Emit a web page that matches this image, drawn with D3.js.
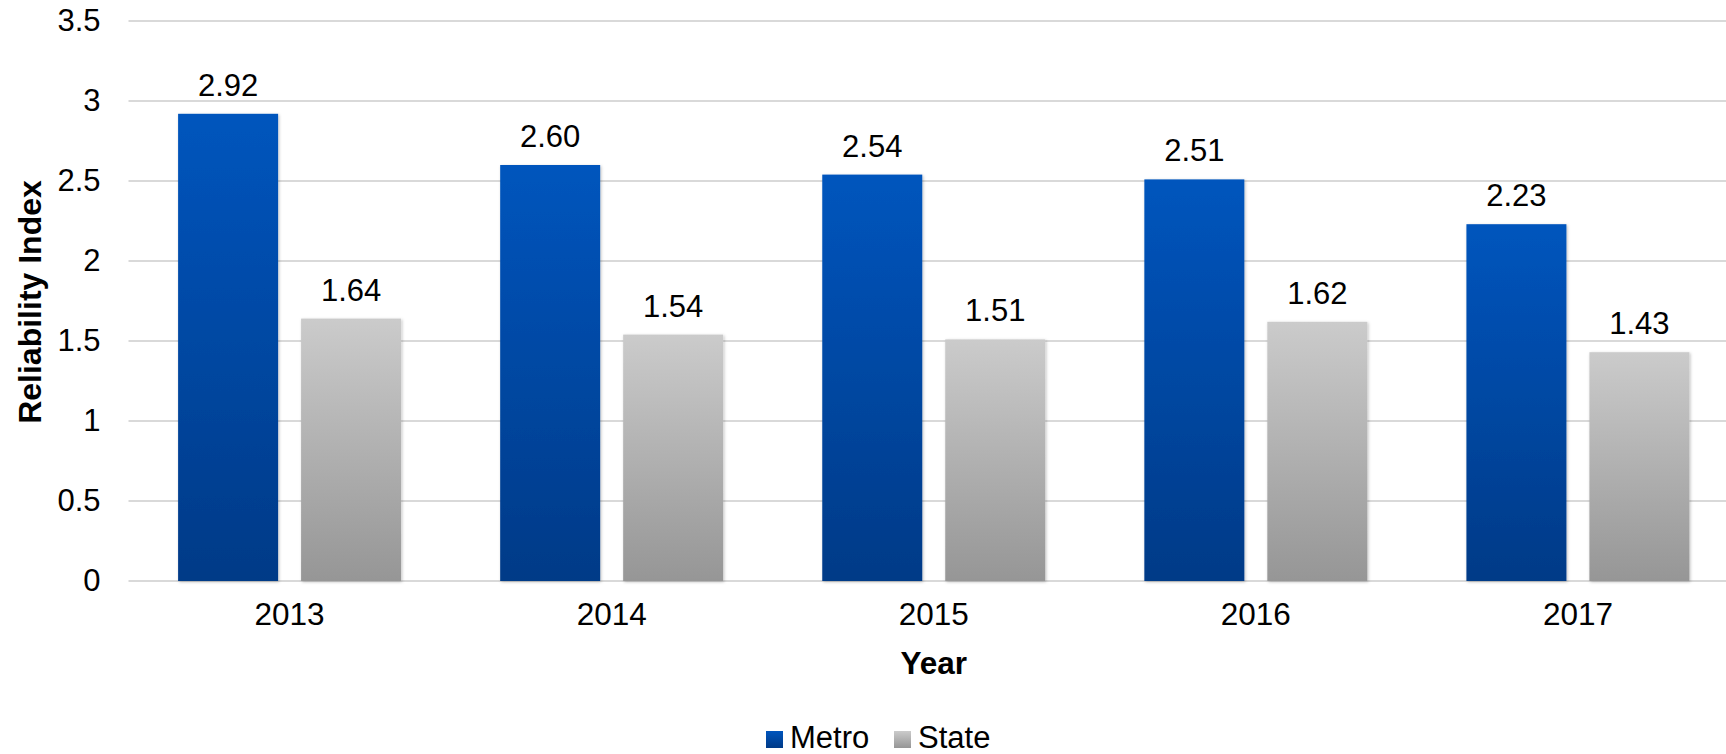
<!DOCTYPE html>
<html>
<head>
<meta charset="utf-8">
<script src="https://cdn.jsdelivr.net/npm/d3@7/dist/d3.min.js"></script>
<style>
  html, body { margin: 0; padding: 0; background: #fff; overflow: hidden; }
  text { font-family: "Liberation Sans", Arial, sans-serif; fill: #000; }
</style>
</head>
<body>
<div id="chart"></div>
<script>
// DATA
const years = ['2013', '2014', '2015', '2016', '2017'];
const seriesNames = ['Metro', 'State'];
const metroValues = [2.92, 2.60, 2.54, 2.51, 2.23];
const stateValues = [1.64, 1.54, 1.51, 1.62, 1.43];
const yTicks = [0, 0.5, 1, 1.5, 2, 2.5, 3, 3.5];

const width = 1726, height = 754;
const plotLeft = 128.5, plotRight = 1739, plotTop = 21, plotBottom = 581;

const svg = d3.select('#chart')
    .append('svg')
    .attr('width', width)
    .attr('height', height);

// GRADIENTS + SHADOW
const defs = svg.append('defs');
const grads = { Metro: ['#0055bd', '#003a87'], State: ['#cbcbcb', '#969696'] };
seriesNames.forEach(name => {
    const g = defs.append('linearGradient')
        .attr('id', 'grad' + name)
        .attr('x1', 0).attr('y1', 0).attr('x2', 0).attr('y2', 1);
    g.append('stop').attr('offset', '0%').attr('stop-color', grads[name][0]);
    g.append('stop').attr('offset', '100%').attr('stop-color', grads[name][1]);
});
const shadow = defs.append('filter').attr('id', 'shadow')
    .attr('x', '-10%').attr('y', '-10%').attr('width', '130%').attr('height', '120%');
shadow.append('feDropShadow')
    .attr('dx', 1).attr('dy', 1).attr('stdDeviation', 1.5)
    .attr('flood-color', '#000').attr('flood-opacity', 0.25);

// SCALES
const yScale = d3.scaleLinear().domain([0, 3.5]).range([plotBottom, plotTop]);
const xScale = d3.scaleBand().domain(years).range([plotLeft, plotRight])
    .paddingInner(0.3077).paddingOuter(0.154);
const xInner = d3.scaleBand().domain(seriesNames).range([0, xScale.bandwidth()])
    .paddingInner(0.187).paddingOuter(0);

// GRIDLINES
svg.append('g')
    .selectAll('line')
    .data(yTicks)
    .enter()
    .append('line')
    .attr('x1', plotLeft).attr('x2', plotRight)
    .attr('y1', d => yScale(d)).attr('y2', d => yScale(d))
    .attr('stroke', '#d9d9d9')
    .attr('stroke-width', 2);

// Y AXIS
const yAxis = svg.append('g')
    .attr('transform', `translate(${plotLeft},0)`)
    .call(d3.axisLeft(yScale).tickValues(yTicks).tickSize(0).tickPadding(28).tickFormat(d => d));
yAxis.select('.domain').remove();
yAxis.selectAll('text')
    .attr('font-size', 31)
    .attr('font-family', '"Liberation Sans", Arial, sans-serif')
    .attr('fill', '#000');

// X AXIS
const xAxis = svg.append('g')
    .attr('transform', `translate(0,${plotBottom})`)
    .call(d3.axisBottom(xScale).tickSize(0).tickPadding(22));
xAxis.select('.domain').remove();
xAxis.selectAll('text')
    .attr('font-size', 31.5)
    .attr('font-family', '"Liberation Sans", Arial, sans-serif')
    .attr('fill', '#000');

// BARS
const rows = years.map((y, i) => ({ year: y, Metro: metroValues[i], State: stateValues[i] }));
const groups = svg.append('g')
    .selectAll('g')
    .data(rows)
    .enter()
    .append('g')
    .attr('transform', d => `translate(${xScale(d.year)},0)`);

groups.selectAll('rect')
    .data(d => seriesNames.map(s => ({ key: s, value: d[s] })))
    .enter()
    .append('rect')
    .attr('x', d => xInner(d.key))
    .attr('width', xInner.bandwidth())
    .attr('y', d => yScale(d.value))
    .attr('height', d => plotBottom - yScale(d.value))
    .attr('fill', d => `url(#grad${d.key})`)
    .attr('filter', 'url(#shadow)');

// VALUE LABELS
groups.selectAll('text.val')
    .data(d => seriesNames.map(s => ({ key: s, value: d[s] })))
    .enter()
    .append('text')
    .attr('class', 'val')
    .attr('x', d => xInner(d.key) + xInner.bandwidth() / 2)
    .attr('y', d => yScale(d.value) - 18)
    .attr('text-anchor', 'middle')
    .attr('font-size', 31)
    .text(d => d.value.toFixed(2));

// AXIS TITLES
svg.append('text')
    .attr('transform', `translate(41,${(plotTop + plotBottom) / 2 + 1}) rotate(-90)`)
    .attr('text-anchor', 'middle')
    .attr('font-size', 32)
    .attr('font-weight', 'bold')
    .text('Reliability Index');

svg.append('text')
    .attr('x', (plotLeft + plotRight) / 2)
    .attr('y', 674)
    .attr('text-anchor', 'middle')
    .attr('font-size', 31.5)
    .attr('font-weight', 'bold')
    .text('Year');

// LEGEND
const legendItems = [{ name: 'Metro', x: 766 }, { name: 'State', x: 894 }];
const legend = svg.append('g')
    .selectAll('g')
    .data(legendItems)
    .enter()
    .append('g')
    .attr('transform', d => `translate(${d.x},731)`);
legend.append('rect')
    .attr('width', 17).attr('height', 17)
    .attr('fill', d => `url(#grad${d.name})`);
legend.append('text')
    .attr('x', 24)
    .attr('y', 17)
    .attr('font-size', 31)
    .text(d => d.name);
</script>
</body>
</html>
